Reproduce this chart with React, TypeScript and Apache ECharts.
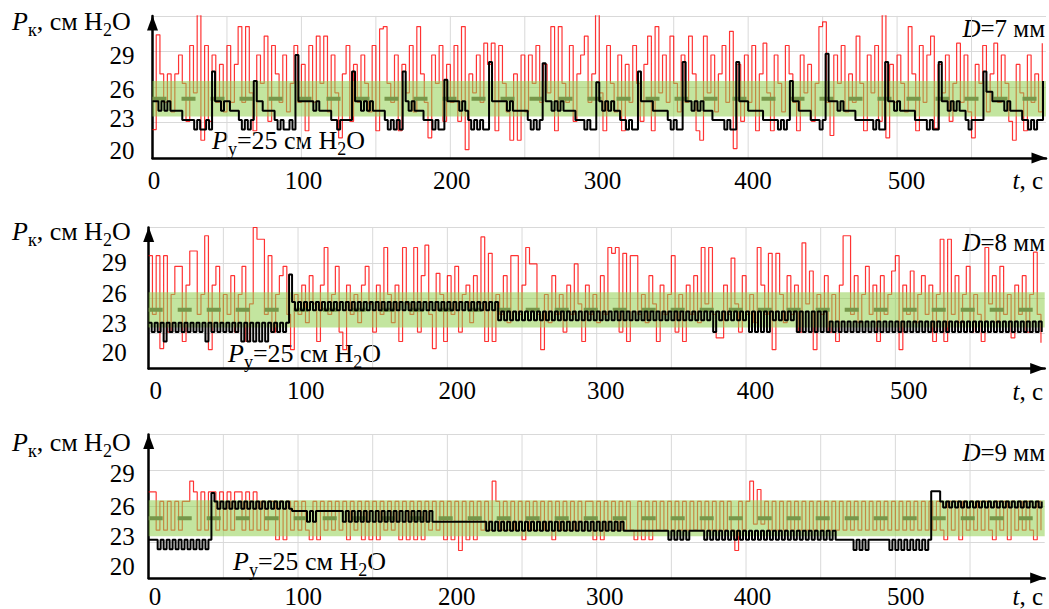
import React, { useEffect, useRef } from "react";
import * as echarts from "echarts";

const SERIF = '"Liberation Serif", "Times New Roman", serif';

// sampling steps of the digitised signals, seconds
const RED_DT = 2.5;
const BLACK_DT = 2;

const X_MIN = 0;
const X_MAX = 600;
const X_STEP = 50;
const X_LABELS = [0, 100, 200, 300, 400, 500];
const X_GRID = [50, 100, 150, 200, 250, 300, 350, 400, 450, 500, 550];
const Y_MIN = 20;
const Y_MAX = 32;
const Y_STEP = 3;
const Y_LABELS = [20, 23, 26, 29];

const SETPOINT = 25;
const BAND = [23.5, 26.5];
const DIAMETERS = ["7", "8", "9"];

// red: measured pressure (noisy), sampled every RED_DT s
const RED_7 = [
  22.4, 30.4, 27.1, 24.7, 27.1, 23.9, 27.1, 28.7, 26.3, 23.1, 29.5, 25.5, 32.1, 21.5, 29.5, 23.1, 28.7, 24.7, 27.9, 23.9,
  29.5, 24.7, 27.9, 31.1, 24.7, 31.1, 25.5, 22.3, 28.7, 26.3, 30.3, 23.1, 29.5, 27.1, 24.7, 28.7, 23.9, 26.3, 29.5, 24.7,
  27.9, 22.3, 29.5, 24.7, 30.3, 26.3, 30.3, 23.9, 28.7, 25.5, 21.7, 27.1, 29.5, 23.1, 27.9, 24.7, 28.7, 26.3, 23.9, 29.5,
  22.3, 30.9, 31.1, 26.3, 24.7, 28.7, 22.3, 27.9, 25.5, 29.5, 23.9, 31.1, 27.1, 24.7, 21.7, 28.7, 26.3, 29.5, 23.1, 27.9,
  24.7, 29.5, 23.1, 31.1, 20.7, 27.1, 25.5, 28.7, 24.7, 29.7, 27.9, 29.7, 22.3, 29.5, 26.3, 23.9, 21.5, 27.1, 21.5, 28.7,
  23.9, 28.7, 26.3, 29.5, 24.7, 27.9, 25.5, 31.1, 22.3, 31.1, 26.3, 24.7, 29.5, 23.1, 27.1, 28.7, 30.3, 24.7, 27.1, 32.1,
  25.5, 22.3, 29.5, 26.3, 23.9, 28.7, 22.3, 27.9, 24.7, 29.5, 26.3, 23.1, 27.9, 30.3, 22.3, 31.1, 25.5, 28.7, 24.7, 30.3,
  26.3, 23.9, 28.7, 24.7, 30.3, 27.1, 22.3, 21.5, 30.3, 25.5, 28.7, 23.9, 27.1, 29.5, 24.7, 30.7, 20.8, 27.9, 23.1, 28.7,
  24.7, 29.5, 22.3, 27.1, 29.7, 25.5, 22.3, 28.7, 26.3, 23.9, 29.5, 27.1, 24.7, 22.3, 28.7, 25.5, 27.9, 23.1, 26.3, 31.1,
  31.5, 24.7, 21.9, 28.7, 26.3, 29.5, 23.9, 27.1, 24.7, 30.3, 26.3, 22.3, 28.7, 25.5, 29.5, 23.1, 32.1, 21.7, 27.9, 24.7,
  28.7, 26.3, 23.9, 31.1, 27.1, 22.3, 29.5, 24.7, 28.7, 30.3, 22.5, 27.9, 25.5, 28.7, 23.1, 26.3, 29.7, 24.7, 28.7, 23.9,
  21.7, 27.9, 26.3, 29.5, 23.9, 27.1, 29.7, 24.7, 28.7, 26.3, 23.1, 21.5, 27.9, 25.5, 22.3, 28.7, 24.7, 27.1, 23.9, 29.7,
];

const RED_8 = [
  29.6, 24.6, 29.6, 21.7, 29.6, 23.1, 26.3, 28.7, 28.7, 22.3, 27.1, 30.0, 30.0, 24.6, 26.3, 31.3, 21.6, 27.1, 28.7, 23.9,
  26.3, 24.6, 27.9, 23.1, 26.3, 28.7, 22.3, 25.5, 32.0, 31.0, 31.0, 24.6, 29.6, 23.1, 26.3, 27.9, 28.7, 24.6, 21.6, 26.3,
  24.6, 27.1, 23.9, 27.9, 25.5, 22.3, 27.1, 30.3, 24.6, 26.3, 28.7, 23.1, 21.6, 27.1, 24.6, 26.3, 23.9, 27.1, 28.7, 25.5,
  23.1, 27.1, 24.6, 30.3, 26.3, 23.9, 27.1, 22.3, 30.3, 25.5, 24.6, 30.3, 23.1, 27.9, 30.5, 24.6, 21.7, 28.1, 26.3, 22.3,
  27.9, 24.6, 28.7, 23.1, 26.3, 27.1, 23.9, 27.9, 25.5, 31.2, 22.3, 29.8, 22.3, 26.3, 24.6, 27.9, 23.9, 29.6, 29.6, 24.6,
  27.1, 30.3, 28.9, 28.9, 24.6, 21.6, 26.3, 23.9, 27.9, 24.6, 26.3, 23.1, 27.1, 24.6, 28.9, 25.5, 22.3, 27.1, 24.6, 26.3,
  23.9, 27.9, 24.6, 30.3, 29.8, 30.3, 23.1, 29.8, 22.3, 29.6, 29.6, 24.6, 26.3, 23.9, 27.9, 25.5, 22.3, 27.1, 24.6, 26.3,
  29.6, 23.1, 26.3, 22.3, 27.1, 24.6, 27.9, 23.9, 30.3, 25.5, 30.3, 24.6, 22.6, 22.6, 27.1, 24.6, 29.4, 25.5, 23.1, 27.9,
  24.6, 26.3, 23.9, 30.3, 27.1, 24.6, 29.8, 21.6, 29.8, 26.3, 23.9, 27.9, 24.6, 27.1, 23.1, 30.7, 25.5, 28.3, 21.6, 26.3,
  24.6, 27.9, 23.1, 26.3, 22.3, 27.1, 31.3, 31.3, 24.6, 27.9, 23.9, 26.3, 28.7, 24.6, 27.1, 22.3, 27.9, 24.6, 26.3, 28.3,
  29.6, 21.6, 27.1, 24.6, 28.3, 23.9, 26.3, 27.9, 24.6, 27.1, 22.3, 26.3, 31.0, 22.3, 31.0, 24.6, 27.9, 23.9, 26.3, 28.7,
  23.1, 26.3, 24.6, 22.3, 30.3, 25.5, 27.9, 23.9, 28.7, 24.6, 26.3, 22.6, 27.1, 24.6, 27.9, 23.1, 26.3, 29.9, 24.6, 22.2,
];

const RED_9 = [
  27.2, 27.2, 24.0, 26.4, 24.0, 26.4, 24.0, 26.4, 24.0, 26.4, 26.4, 28.1, 27.2, 24.0, 27.2, 24.0, 27.2, 27.2, 24.0, 27.2,
  24.0, 27.2, 24.0, 27.2, 27.2, 24.0, 27.2, 24.0, 27.2, 24.0, 26.4, 24.0, 26.4, 26.4, 23.2, 26.4, 23.2, 26.4, 24.0, 26.4,
  24.0, 26.4, 24.0, 23.2, 26.4, 23.2, 26.4, 24.0, 26.4, 24.0, 26.4, 24.0, 26.4, 23.2, 26.4, 24.0, 26.4, 23.2, 26.4, 23.2,
  26.4, 23.2, 26.4, 24.0, 26.4, 24.0, 26.4, 23.2, 26.4, 23.2, 26.4, 23.2, 26.4, 23.2, 26.4, 24.0, 26.4, 24.0, 26.4, 23.2,
  26.4, 23.2, 26.4, 22.3, 26.4, 23.2, 26.4, 23.2, 26.4, 24.0, 26.4, 24.0, 28.1, 26.4, 24.0, 26.4, 24.0, 26.4, 24.0, 26.4,
  23.2, 26.4, 24.0, 26.4, 24.0, 26.4, 24.0, 26.4, 23.2, 26.4, 24.0, 26.4, 24.0, 26.4, 24.0, 26.4, 24.0, 26.4, 26.4, 23.2,
  26.4, 23.2, 26.4, 24.0, 26.4, 24.0, 26.4, 24.0, 26.4, 24.0, 23.2, 26.4, 23.2, 26.4, 23.2, 26.4, 24.0, 26.4, 24.0, 26.4,
  24.0, 26.4, 24.0, 26.4, 24.0, 26.4, 24.0, 26.4, 24.0, 26.4, 24.0, 26.4, 24.0, 26.4, 24.0, 26.4, 24.0, 22.3, 26.4, 24.0,
  26.4, 28.1, 24.5, 27.4, 24.5, 26.4, 24.0, 26.4, 24.0, 26.4, 24.0, 26.4, 24.0, 26.4, 24.0, 26.4, 24.0, 26.4, 24.0, 26.4,
  24.0, 26.4, 24.0, 26.4, 24.0, 26.4, 24.0, 26.4, 24.0, 26.4, 24.0, 26.4, 24.0, 26.4, 24.0, 26.4, 24.0, 26.4, 24.0, 26.4,
  24.0, 26.4, 24.0, 26.4, 24.0, 26.4, 24.0, 26.4, 24.0, 26.4, 24.0, 26.4, 24.0, 23.2, 26.4, 24.0, 26.4, 23.2, 26.4, 24.0,
  26.4, 24.0, 26.4, 24.0, 26.4, 24.0, 23.2, 26.4, 24.0, 26.4, 23.2, 26.4, 24.0, 26.4, 24.0, 26.4, 24.0, 23.2, 26.4, 24.0,
];

// black: regulated pressure, sampled every BLACK_DT s
const BLACK_7 = [
  24.8, 24.8, 24.0, 24.8, 24.0, 24.8, 24.0, 24.0, 24.0, 24.0, 23.2, 23.2, 23.2, 23.2, 22.4, 23.2, 22.4, 22.4, 23.2, 22.4,
  27.3,
  24.8, 24.8, 24.0, 24.8, 24.8, 24.0, 24.0, 24.0, 23.2, 22.4, 23.2, 22.4, 23.2,
  26.5,
  24.8, 24.8, 24.0, 24.0, 24.0, 24.0, 23.2, 22.4, 23.2, 22.4, 22.4, 23.2, 22.4,
  28.7,
  24.8, 24.8, 24.8, 24.8, 24.8, 24.0, 24.8, 24.0, 24.0, 24.0, 24.0, 23.2, 23.2, 22.4, 23.2, 23.2, 23.2, 23.2,
  27.3,
  24.8, 24.8, 24.0, 24.8, 24.0, 24.8, 24.0, 24.0, 24.0, 24.0, 23.2, 22.4, 23.2, 22.4, 23.2, 22.4,
  27.3,
  24.8, 24.0, 24.8, 24.0, 24.0, 24.0, 23.2, 23.2, 23.2, 22.4, 23.2, 22.4, 22.4,
  26.6,
  24.8, 24.8, 24.8, 24.8, 24.0, 24.8, 24.0, 23.2, 22.4, 23.2, 22.4, 23.2, 22.4, 22.4,
  28.1,
  24.8, 24.8, 24.8, 24.8, 24.8, 24.0, 24.8, 24.0, 24.0, 24.0, 24.0, 24.0, 23.2, 22.4, 23.2, 22.4, 23.2,
  28.0,
  24.8, 24.8, 24.0, 24.8, 24.0, 24.8, 24.0, 24.0, 24.0, 24.0, 23.2, 23.2, 23.2, 22.4, 23.2, 22.4, 22.4,
  26.4,
  24.8, 24.0, 24.8, 24.0, 24.8, 24.0, 24.0, 23.2, 23.2, 22.4, 23.2, 22.4, 22.4,
  27.3,
  24.8, 24.8, 24.8, 24.8, 24.0, 24.0, 24.0, 24.0, 24.0, 23.2, 22.4, 23.2, 22.4, 22.4,
  28.1,
  24.8, 24.8, 24.0, 24.8, 24.0, 24.8, 24.0, 24.0, 24.0, 23.2, 23.2, 23.2, 23.2, 22.4, 23.2, 22.4, 22.4,
  28.1,
  24.8, 24.8, 24.8, 24.0, 24.0, 24.0, 24.0, 24.0, 23.2, 23.2, 23.2, 23.2, 23.2, 22.4, 23.2, 22.4, 23.2,
  26.5,
  24.8, 24.8, 24.0, 24.0, 24.0, 24.0, 23.2, 23.2, 23.2, 22.4, 23.2,
  28.8,
  24.8, 24.8, 24.8, 24.0, 24.8, 24.0, 24.0, 24.0, 24.0, 23.2, 23.2, 23.2, 23.2, 23.2, 23.2, 22.4, 23.2, 22.4, 22.4,
  28.1,
  24.8, 24.8, 24.0, 24.8, 24.0, 24.0, 24.0, 24.0, 24.0, 23.2, 23.2, 23.2, 23.2, 22.4, 23.2, 22.4, 22.4,
  28.1,
  24.8, 24.8, 24.0, 24.8, 24.0, 24.8, 24.0, 24.0, 23.2, 22.4, 23.2, 23.2, 23.2, 23.2,
  27.3,
  25.6, 25.6, 24.8, 24.8, 24.8, 24.8, 24.0, 24.8, 24.0, 24.0, 24.0, 24.0, 23.2, 23.2, 22.4, 23.2, 22.4, 23.2, 23.2,
  26.5,
];

const BLACK_8 = [
  23.9, 23.1, 23.9, 23.1, 23.9, 22.3, 23.9, 23.1, 23.9, 23.1, 23.9, 23.1, 23.9, 23.1, 23.9, 23.1, 23.9, 23.1, 23.9, 22.3,
  23.9, 23.1, 23.9, 23.1, 23.9, 23.1, 23.9, 23.1, 23.9, 23.1, 23.9, 22.3, 23.9, 22.3, 23.9, 22.3, 23.9, 22.3, 23.9, 22.3,
  23.9, 23.1, 23.9, 23.1, 23.9, 23.1, 23.9,
  28.0,
  25.65, 24.95, 25.65, 24.95, 25.65, 24.95, 25.65, 24.95, 25.65, 24.95, 25.65, 24.95, 25.65, 24.95, 25.65, 24.95,
  25.65, 24.95, 25.65, 24.95, 25.65, 24.95, 25.65, 24.95, 25.65, 24.95, 25.65, 24.95, 25.65, 24.95, 25.65, 24.95,
  25.65, 24.95, 25.65, 24.95, 25.65, 24.95, 25.65, 24.95, 25.65, 24.95, 25.65, 24.95, 25.65, 24.95, 25.65, 24.95,
  25.65, 24.95, 25.65, 24.95, 25.65, 24.95, 25.65, 24.95, 25.65, 24.95, 25.65, 24.95, 25.65, 24.95, 25.65, 24.95,
  25.65, 24.95, 25.65, 24.95, 25.65,
  24.1, 24.85, 24.1, 24.85, 24.1, 24.85, 24.1, 24.85, 24.1, 24.85, 24.1, 24.85, 24.1, 24.85, 24.1, 24.85,
  24.1, 24.85, 24.1, 24.85, 24.1, 24.85, 24.1, 24.85, 24.1, 24.85, 24.1, 24.85, 24.1, 24.85, 24.1, 24.85,
  24.1, 24.85, 24.1, 24.85, 24.1, 24.85, 24.1, 24.85, 24.1, 24.85, 24.1, 24.85, 24.1, 24.85, 24.1, 24.85,
  24.1, 24.85, 24.1, 24.85, 24.1, 24.85, 24.1, 24.85, 24.1, 24.85, 24.1, 24.85, 24.1, 24.85, 24.1, 24.85,
  24.1, 24.85, 24.1, 24.85, 24.1, 24.85, 24.1, 24.85,
  23.1, 24.85, 24.1, 24.85, 24.1, 24.85, 24.1, 24.85, 24.1, 24.85, 24.1, 24.85, 23.1, 24.85, 23.1, 24.85,
  23.1, 24.85, 23.1, 24.85, 24.1, 24.85, 24.1, 24.85, 24.1, 24.85, 24.1, 24.85, 23.1, 24.85, 23.1, 24.85,
  23.1, 24.85, 23.1, 24.85, 23.1, 24.85,
  23.1, 24.0, 23.1, 24.0, 23.1, 24.0, 23.1, 24.0, 23.1, 24.0, 23.1, 24.0, 23.1, 24.0, 23.1, 24.0,
  23.1, 24.0, 23.1, 24.0, 23.1, 24.0, 23.1, 24.0, 23.1, 24.0, 23.1, 24.0, 23.1, 24.0, 23.1, 24.0,
  23.1, 24.0, 23.1, 24.0, 23.1, 24.0, 23.1, 24.0, 23.1, 24.0, 23.1, 24.0, 23.1, 24.0, 23.1, 24.0,
  23.1, 24.0, 23.1, 24.0, 23.1, 24.0, 23.1, 24.0, 23.1, 24.0, 23.1, 24.0, 23.1, 24.0, 23.1, 24.0,
  23.1, 24.0, 23.1, 24.0, 23.1, 24.0, 23.1, 24.0, 23.1,
];

const BLACK_9 = [
  23.2, 23.2, 23.2, 22.4, 23.2, 22.4, 23.2, 22.4, 23.2, 22.4, 23.2, 22.4, 23.2, 22.4, 23.2, 22.4, 23.2, 22.4, 23.2, 22.4,
  23.2,
  27.1,
  26.4, 25.8, 26.4, 25.8, 26.4, 25.8, 26.4, 25.8, 26.4, 25.8, 26.4, 25.8, 26.4, 25.8, 26.4, 25.8,
  26.4, 25.8, 26.4, 25.8, 26.4, 25.8, 26.4, 25.8, 26.4, 25.8,
  25.6, 25.6, 25.6, 25.6, 25.6,
  24.7, 25.6, 24.7, 25.6,
  25.6, 25.6, 25.6, 25.6, 25.6, 25.6, 25.6, 25.6,
  24.7, 25.6, 24.7, 25.6, 24.7, 25.6, 24.7, 25.6, 24.7, 25.6, 24.7, 25.6, 24.7, 25.6, 24.7, 25.6,
  24.7, 25.6, 24.7, 25.6, 24.7, 25.6, 24.7, 25.6, 24.7, 25.6, 24.7, 25.6, 24.7, 25.6,
  24.7, 24.7, 24.7, 24.7, 24.7, 24.7, 24.7, 24.7, 24.7, 24.7, 24.7, 24.7, 24.7, 24.7, 24.7, 24.7, 24.7, 24.7,
  23.95, 24.7, 23.95, 24.7, 23.95, 24.7, 23.95, 24.7, 23.95, 24.7, 23.95, 24.7, 23.95, 24.7, 23.95, 24.7,
  23.95, 24.7, 23.95, 24.7, 23.95, 24.7, 23.95, 24.7, 23.95, 24.7, 23.95, 24.7, 23.95, 24.7, 23.95, 24.7,
  23.95, 24.7, 23.95, 24.7, 23.95, 24.7, 23.95, 24.7, 23.95, 24.7, 23.95, 24.7, 23.95, 24.7, 23.95,
  23.95, 23.95, 23.95, 23.95, 23.95, 23.95, 23.95, 23.95, 23.95, 23.95, 23.95, 23.95, 23.95, 23.95,
  23.2, 23.95, 23.2, 23.95, 23.2, 23.95, 23.2, 23.95, 23.95, 23.95, 23.95, 23.95,
  23.2, 23.95, 23.2, 23.95, 23.2, 23.95, 23.2, 23.95, 23.2, 23.95, 23.2, 23.95, 23.2, 23.95, 23.2, 23.95,
  23.2, 23.95, 23.2, 23.95, 23.2, 23.95, 23.2, 23.95, 23.2, 23.95, 23.2, 23.95, 23.2, 23.95, 23.2, 23.95,
  23.2, 23.95, 23.2, 23.95, 23.2, 23.95, 23.2, 23.95, 23.2, 23.95, 23.2, 23.95,
  23.2, 23.2, 23.2, 23.2, 23.2, 23.2,
  22.35, 23.2, 22.35, 23.2, 22.35, 23.2,
  23.2, 23.2, 23.2, 23.2, 23.2, 23.2,
  22.35, 23.2, 22.35, 23.2, 22.35, 23.2, 22.35, 23.2, 22.35, 23.2, 22.35, 23.2, 22.35,
  23.2,
  27.25, 27.25, 27.25,
  26.4, 25.9, 26.4, 25.9, 26.4, 25.9, 26.4, 25.9, 26.4, 25.9, 26.4, 25.9, 26.4, 25.9, 26.4, 25.9,
  26.4, 25.9, 26.4, 25.9, 26.4, 25.9, 26.4, 25.9, 26.4, 25.9, 26.4, 25.9, 26.4, 25.9, 26.4, 25.9,
  26.4, 25.9, 26.4,
];

const PANELS = [
  { red: RED_7, black: BLACK_7, d: DIAMETERS[0] },
  { red: RED_8, black: BLACK_8, d: DIAMETERS[1] },
  { red: RED_9, black: BLACK_9, d: DIAMETERS[2] },
];

// ---------- layout (pixels) ----------
const GRID_LEFTS = [152.5, 148.7, 148.7];
const GRID_WIDTHS = [894.5, 896, 896];
const GRID_TOPS = [15.9, 227.5, 434.5];
const GRID_HEIGHTS = [142.1, 141, 143.8];
// hand-placed tick labels in the original: per-label offsets (px) from the tick
const Y_LABEL_SHIFTS = [
  [-7.3, -3.5, 3, 4.2],
  [-16.3, -9.5, -4.2, -0.6],
  [-11.6, -5.5, 0.4, 3],
];
const Y_LABEL_MARGINS = [18, 22, 14];
const X_LABEL_SHIFTS = [
  [1.5, 2.1, 1.3, 3.2, 4.8, 9.5],
  [7.1, 7.8, 10, 9, 9.5, 13.5],
  [6.3, 5.3, 9.3, 8, 6.5, 10.4],
];
const X_LABEL_MARGINS = [9.5, 9.8, 6];
const TITLE_TOPS = [8.5, 218.5, 429.5];
const D_TOPS = [15.5, 230, 440];
const PY_POS = [[212, 127.5], [228, 340.5], [233, 548.5]];
const T_TOPS = [168, 379, 584];

const RICH_BIG: any = {
  i: { fontFamily: SERIF, fontSize: 26, fontStyle: "italic", lineHeight: 27, verticalAlign: "top", fill: "#000" },
  n: { fontFamily: SERIF, fontSize: 26, lineHeight: 27, verticalAlign: "top", fill: "#000" },
  s: { fontFamily: SERIF, fontSize: 18, lineHeight: 18, verticalAlign: "top", padding: [12, 0, 0, 0], fill: "#000" },
};
const RICH_SMALL: any = {
  i: { fontFamily: SERIF, fontSize: 25, fontStyle: "italic", lineHeight: 25, verticalAlign: "top", fill: "#000" },
  n: { fontFamily: SERIF, fontSize: 25, lineHeight: 25, verticalAlign: "top", fill: "#000" },
};

function axisLine() {
  return {
    show: true,
    onZero: false,
    lineStyle: { color: "#000", width: 2.5 },
    symbol: ["none", "triangle"],
    symbolSize: [11, 15],
    symbolOffset: [0, -7],
  };
}

function shiftPad(d: number, vertical: boolean) {
  const a = Math.max(0, 2 * d);
  const b = Math.max(0, -2 * d);
  return vertical ? [a, 0, b, 0] : [0, b, 0, a];
}

function buildOption() {
  const grid: any[] = [];
  const xAxis: any[] = [];
  const yAxis: any[] = [];
  const series: any[] = [];
  const elements: any[] = [];

  PANELS.forEach((panel, p) => {
    grid.push({ left: GRID_LEFTS[p], top: GRID_TOPS[p], width: GRID_WIDTHS[p], height: GRID_HEIGHTS[p] });

    const xRich: any = {};
    X_LABELS.forEach((v, k) => {
      xRich["x" + v] = { fontFamily: SERIF, fontSize: 25, color: "#000", padding: shiftPad(X_LABEL_SHIFTS[p][k], false) };
    });
    const yRich: any = {};
    Y_LABELS.forEach((v, k) => {
      yRich["y" + v] = { fontFamily: SERIF, fontSize: 25, color: "#000", padding: shiftPad(Y_LABEL_SHIFTS[p][k], true) };
    });

    xAxis.push({
      type: "value",
      gridIndex: p,
      min: X_MIN,
      max: X_MAX,
      interval: X_STEP,
      axisLine: axisLine(),
      axisTick: { show: false },
      splitLine: { show: false },
      axisLabel: {
        formatter: (v: number) => (X_LABELS.includes(v) ? `{x${v}|${v}}` : ""),
        fontFamily: SERIF,
        fontSize: 25,
        color: "#000",
        margin: X_LABEL_MARGINS[p],
        rich: xRich,
      },
    });
    yAxis.push({
      type: "value",
      gridIndex: p,
      min: Y_MIN,
      max: Y_MAX,
      interval: Y_STEP,
      axisLine: axisLine(),
      axisTick: { show: false },
      splitLine: { show: true, lineStyle: { color: "#d9d9d9", width: 1 } },
      axisLabel: {
        formatter: (v: number) => (Y_LABELS.includes(v) ? `{y${v}|${v}}` : ""),
        fontFamily: SERIF,
        fontSize: 25,
        color: "#000",
        margin: Y_LABEL_MARGINS[p],
        rich: yRich,
      },
    });

    // vertical grid lines
    series.push({
      type: "custom",
      xAxisIndex: p,
      yAxisIndex: p,
      z: 0,
      silent: true,
      data: X_GRID.map((x) => [x, Y_MIN]),
      renderItem: (_params: any, api: any) => {
        const a = api.coord([api.value(0), Y_MIN]);
        const b = api.coord([api.value(0), Y_MAX]);
        return {
          type: "line",
          shape: { x1: a[0], y1: a[1], x2: b[0], y2: b[1] },
          style: { stroke: "#d9d9d9", lineWidth: 1 },
        };
      },
    });

    // measured pressure
    series.push({
      type: "line",
      xAxisIndex: p,
      yAxisIndex: p,
      z: 1,
      silent: true,
      step: "end",
      symbol: "none",
      data: panel.red.map((v, k) => [k * RED_DT, v]),
      lineStyle: { color: "#ff0000", width: 1.2, opacity: 0.8 },
    });

    // tolerance band (drawn over the red trace, semi-transparent)
    series.push({
      type: "custom",
      xAxisIndex: p,
      yAxisIndex: p,
      z: 2,
      silent: true,
      data: [[BAND[0], BAND[1]]],
      renderItem: (_params: any, api: any) => {
        const lo = api.value(0);
        const hi = api.value(1);
        const tl = api.coord([X_MIN, hi]);
        const br = api.coord([X_MAX, lo]);
        return {
          type: "rect",
          shape: { x: tl[0], y: tl[1], width: br[0] - tl[0], height: br[1] - tl[1] },
          style: { fill: "rgba(146,208,80,0.55)" },
        };
      },
    });

    // setpoint
    series.push({
      type: "line",
      xAxisIndex: p,
      yAxisIndex: p,
      z: 3,
      silent: true,
      symbol: "none",
      data: [[X_MIN, SETPOINT], [X_MAX, SETPOINT]],
      lineStyle: { color: "#76974a", width: 4, type: [14, 15] },
    });

    // regulated pressure
    series.push({
      type: "line",
      xAxisIndex: p,
      yAxisIndex: p,
      z: 4,
      silent: true,
      step: "end",
      symbol: "none",
      data: panel.black.map((v, k) => [k * BLACK_DT, v]),
      lineStyle: { color: "#000", width: 2 },
    });

    elements.push({
      type: "text",
      x: 12,
      y: TITLE_TOPS[p],
      silent: true,
      style: { text: "{i|P}{s|к}{n|, см H}{s|2}{n|O}", rich: RICH_BIG, align: "left", verticalAlign: "top" },
    });
    elements.push({
      type: "text",
      x: 1045,
      y: D_TOPS[p],
      silent: true,
      style: { text: `{i|D}{n|=${panel.d} мм}`, rich: RICH_SMALL, align: "right", verticalAlign: "top" },
    });
    elements.push({
      type: "text",
      x: PY_POS[p][0],
      y: PY_POS[p][1],
      silent: true,
      style: { text: `{i|P}{s|у}{n|=${SETPOINT} см H}{s|2}{n|O}`, rich: RICH_BIG, align: "left", verticalAlign: "top" },
    });
    elements.push({
      type: "text",
      x: 1043,
      y: T_TOPS[p],
      silent: true,
      style: { text: "{i|t}{n|, с}", rich: RICH_SMALL, align: "right", verticalAlign: "top" },
    });
  });

  return {
    animation: false,
    backgroundColor: "#fff",
    grid,
    xAxis,
    yAxis,
    series,
    graphic: { elements },
  };
}

export default function App() {
  const ref = useRef<HTMLDivElement>(null);
  useEffect(() => {
    if (!ref.current) return;
    const chart = echarts.init(ref.current, null, { renderer: "svg" });
    chart.setOption(buildOption() as any);
    return () => chart.dispose();
  }, []);
  return (
    <div
      ref={ref}
      style={{ position: "fixed", left: 0, top: 0, width: 1049, height: 609, background: "#fff" }}
    />
  );
}
